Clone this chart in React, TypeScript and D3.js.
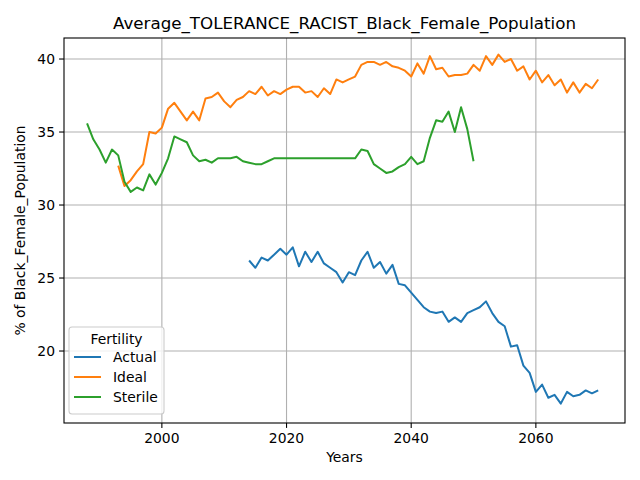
import React from "react";
import * as d3 from "d3";

const actualStart = 2014;
const actual = [26.2,25.7,26.4,26.2,26.6,27.0,26.6,27.1,25.8,26.8,26.1,26.8,26.0,25.7,25.4,24.7,25.4,25.2,26.2,26.8,25.7,26.1,25.3,25.9,24.6,24.5,24.0,23.5,23.0,22.7,22.6,22.7,22.0,22.3,22.0,22.6,22.8,23.0,23.4,22.6,22.0,21.7,20.3,20.4,19.0,18.5,17.2,17.7,16.8,17.0,16.4,17.2,16.9,17.0,17.3,17.1,17.3];
const idealStart = 1993;
const ideal = [32.7,31.3,31.7,32.3,32.8,35.0,34.9,35.3,36.6,37.0,36.4,35.8,36.4,35.8,37.3,37.4,37.7,37.1,36.7,37.2,37.4,37.8,37.6,38.1,37.5,37.8,37.6,37.9,38.1,38.1,37.7,37.8,37.4,38.0,37.6,38.6,38.4,38.6,38.8,39.6,39.8,39.8,39.6,39.8,39.5,39.4,39.2,38.8,39.7,39.0,40.2,39.3,39.4,38.8,38.9,38.9,39.0,39.6,39.2,40.2,39.6,40.3,39.8,40.0,39.2,39.5,38.6,39.2,38.4,38.9,38.2,38.6,37.7,38.4,37.7,38.3,38.0,38.6];
const sterileStart = 1988;
const sterile = [35.6,34.5,33.8,32.9,33.8,33.4,31.6,30.9,31.2,31.0,32.1,31.4,32.2,33.2,34.7,34.5,34.3,33.4,33.0,33.1,32.9,33.2,33.2,33.2,33.3,33.0,32.9,32.8,32.8,33.0,33.2,33.2,33.2,33.2,33.2,33.2,33.2,33.2,33.2,33.2,33.2,33.2,33.2,33.2,33.8,33.7,32.8,32.5,32.2,32.3,32.6,32.8,33.3,32.8,33.0,34.6,35.8,35.7,36.4,35.0,36.7,35.2,33.0];
const xTicks = [2000, 2020, 2040, 2060];
const yTicks = [20, 25, 30, 35, 40];

const seriesList = [
  { name: "Actual", start: actualStart, values: actual, color: "#1f77b4" },
  { name: "Ideal", start: idealStart, values: ideal, color: "#ff7f0e" },
  { name: "Sterile", start: sterileStart, values: sterile, color: "#2ca02c" },
];

export default function App() {
  const L = 64, R = 625, T = 38, B = 423;
  const x = d3.scaleLinear().domain([1984.3, 2074.3]).range([L, R]);
  const y = d3.scaleLinear().domain([15.07, 41.44]).range([B, T]);
  const line = d3.line<[number, number]>().x(d => x(d[0])).y(d => y(d[1]));
  const font = "DejaVu Sans";
  return (
    <svg width={640} height={480} style={{ position: "absolute", left: 0, top: 0 }} fontFamily={font}>
      <rect width={640} height={480} fill="white" />
      {xTicks.map(t => <line key={"gx"+t} x1={x(t)} x2={x(t)} y1={T} y2={B} stroke="#b0b0b0" strokeWidth={1.1} />)}
      {yTicks.map(t => <line key={"gy"+t} x1={L} x2={R} y1={y(t)} y2={y(t)} stroke="#b0b0b0" strokeWidth={1.1} />)}
      {seriesList.map(s => (
        <path key={s.name} d={line(s.values.map((v, i) => [s.start + i, v] as [number, number])) || ""} fill="none" stroke={s.color} strokeWidth={2} strokeLinejoin="round" />
      ))}
      <rect x={L} y={T} width={R - L} height={B - T} fill="none" stroke="black" strokeWidth={1.1} />
      {xTicks.map(t => (
        <g key={"tx"+t}>
          <line x1={x(t)} x2={x(t)} y1={B} y2={B + 4.9} stroke="black" strokeWidth={1.1} />
          <text x={x(t)} y={B + 20} fontSize={13.9} textAnchor="middle">{t}</text>
        </g>
      ))}
      {yTicks.map(t => (
        <g key={"ty"+t}>
          <line x1={L - 4.9} x2={L} y1={y(t)} y2={y(t)} stroke="black" strokeWidth={1.1} />
          <text x={L - 9} y={y(t) + 5} fontSize={13.9} textAnchor="end">{t}</text>
        </g>
      ))}
      <text x={(L + R) / 2} y={462} fontSize={13.9} textAnchor="middle">Years</text>
      <text transform={`translate(25,${(T + B) / 2}) rotate(-90)`} fontSize={13.9} textAnchor="middle">% of Black_Female_Population</text>
      <text x={(L + R) / 2} y={29} fontSize={16.7} textAnchor="middle">Average_TOLERANCE_RACIST_Black_Female_Population</text>
      <g>
        <rect x={69} y={327} width={95} height={87} rx={3} fill="white" fillOpacity={0.8} stroke="#cccccc" strokeWidth={1.1} />
        <text x={116.5} y={344} fontSize={13.9} textAnchor="middle">Fertility</text>
        {seriesList.map((s, i) => (
          <g key={"lg"+s.name}>
            <line x1={74} x2={101} y1={357 + i * 20} y2={357 + i * 20} stroke={s.color} strokeWidth={2} />
            <text x={113} y={362 + i * 20} fontSize={13.9}>{s.name}</text>
          </g>
        ))}
      </g>
    </svg>
  );
}
